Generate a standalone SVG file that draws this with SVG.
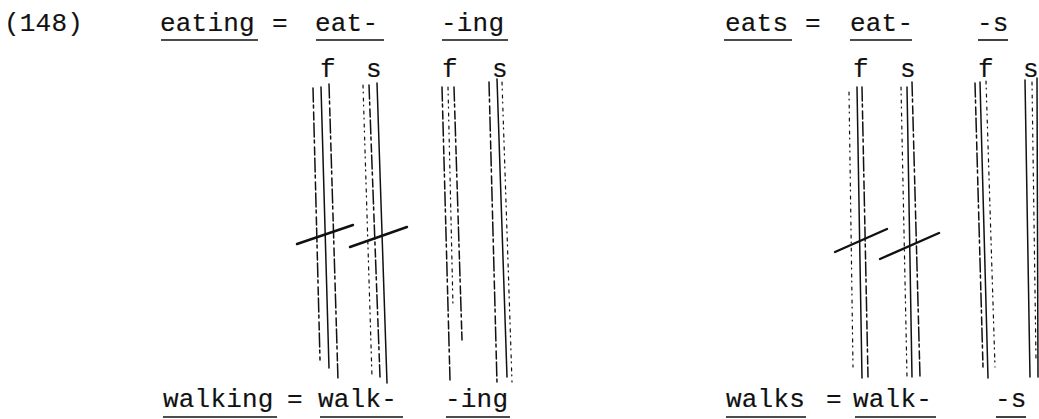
<svg xmlns="http://www.w3.org/2000/svg" width="1039" height="419" viewBox="0 0 1039 419">
  <style>
    text { font-family: "Liberation Mono", "DejaVu Sans Mono", monospace; font-size: 26px; letter-spacing: 0.2px; fill: #111; stroke: #111; stroke-width: 0.15; }
    .ul { stroke: #111; stroke-width: 1.6; }
    .ln { stroke: #111; stroke-width: 1.5; fill: none; stroke-linecap: round; }
    .br { stroke-dasharray: 14 3 3 4 8 3; }
    .dt { stroke-dasharray: 3 4 1 5; stroke-width: 1.2; }
    .bar { stroke: #111; stroke-width: 2.4; stroke-linecap: round; }
  </style>
  <rect width="1039" height="419" fill="#fff"/>

  <text id="ex-num" x="4" y="31">(148)</text>

  <!-- upper left: eating = eat- -ing -->
  <g id="eating"><text x="160" y="31">eating</text><line class="ul" x1="161" y1="40" x2="258" y2="40"/></g>
  <text x="272" y="31">=</text>
  <g id="eat-L"><text x="315" y="31">eat-</text><line class="ul" x1="316" y1="40" x2="384" y2="40"/>
    <text x="320" y="77">f</text><text x="366" y="77">s</text></g>
  <g id="ing-L"><text x="441" y="31">-ing</text><line class="ul" x1="442" y1="40" x2="508" y2="40"/>
    <text x="442" y="77">f</text><text x="492" y="77">s</text></g>

  <!-- upper right: eats = eat- -s -->
  <g id="eats"><text x="725" y="31">eats</text><line class="ul" x1="724" y1="40" x2="792" y2="40"/></g>
  <text x="805" y="31">=</text>
  <g id="eat-R"><text x="850" y="31">eat-</text><line class="ul" x1="850" y1="40" x2="912" y2="40"/>
    <text x="853" y="77">f</text><text x="900" y="77">s</text></g>
  <g id="s-R"><text x="977" y="31">-s</text><line class="ul" x1="978" y1="40" x2="1008" y2="40"/>
    <text x="978" y="77">f</text><text x="1023" y="77">s</text></g>

  <!-- lower left: walking = walk- -ing -->
  <g id="walking"><text x="163" y="407">walking</text><line class="ul" x1="163" y1="417" x2="277" y2="417"/></g>
  <text x="287" y="407">=</text>
  <g id="walk-L"><text x="318" y="407">walk-</text><line class="ul" x1="320" y1="417" x2="403" y2="417"/></g>
  <g id="ing-L2"><text x="445" y="407">-ing</text><line class="ul" x1="446" y1="417" x2="510" y2="417"/></g>

  <!-- lower right: walks = walk- -s -->
  <g id="walks"><text x="726" y="407">walks</text><line class="ul" x1="726" y1="417" x2="806" y2="417"/></g>
  <text x="826" y="407">=</text>
  <g id="walk-R"><text x="853" y="407">walk-</text><line class="ul" x1="855" y1="417" x2="936" y2="417"/></g>
  <g id="s-R2"><text x="995" y="407">-s</text><line class="ul" x1="996" y1="417" x2="1026" y2="417"/></g>

  <!-- feature lines (f / s) with crossing strokes -->
  <g id="connectors">
    <!-- eat- f -->
    <line class="ln br" x1="313" y1="88" x2="320" y2="360"/>
    <line class="ln" x1="321" y1="87" x2="329" y2="368"/>
    <line class="ln br" x1="329" y1="84" x2="338" y2="380"/>
    <line class="bar" x1="297" y1="244" x2="353" y2="225"/>
    <!-- eat- s -->
    <line class="ln dt" x1="363" y1="85" x2="372" y2="377"/>
    <line class="ln br" x1="369" y1="85" x2="380" y2="377"/>
    <line class="ln" x1="377" y1="83" x2="387" y2="383"/>
    <line class="bar" x1="350" y1="247" x2="407" y2="227"/>
    <!-- -ing f -->
    <line class="ln br" x1="442" y1="87" x2="450" y2="380"/>
    <line class="ln dt" x1="448" y1="87" x2="453" y2="307"/>
    <line class="ln br" x1="454" y1="87" x2="462" y2="340"/>
    <!-- -ing s -->
    <line class="ln br" x1="489" y1="82" x2="497" y2="383"/>
    <line class="ln" x1="497" y1="79" x2="507" y2="377"/>
    <line class="ln dt" x1="502" y1="82" x2="512" y2="382"/>

    <!-- eat- f (right) -->
    <line class="ln dt" x1="849" y1="92" x2="853" y2="367"/>
    <line class="ln" x1="857" y1="87" x2="862" y2="378"/>
    <line class="ln br" x1="862" y1="87" x2="868" y2="377"/>
    <line class="bar" x1="835" y1="252" x2="887" y2="229"/>
    <!-- eat- s (right) -->
    <line class="ln dt" x1="901" y1="87" x2="907" y2="377"/>
    <line class="ln" x1="907" y1="87" x2="912" y2="377"/>
    <line class="ln br" x1="912" y1="82" x2="920" y2="377"/>
    <line class="bar" x1="880" y1="259" x2="939" y2="233"/>
    <!-- -s f -->
    <line class="ln br" x1="975" y1="83" x2="983" y2="367"/>
    <line class="ln" x1="980" y1="82" x2="988" y2="378"/>
    <line class="ln dt" x1="986" y1="81" x2="995" y2="367"/>
    <!-- -s s -->
    <line class="ln" x1="1025" y1="80" x2="1030" y2="377"/>
    <line class="ln dt" x1="1032" y1="82" x2="1036" y2="360"/>
    <line class="ln" x1="1037" y1="78" x2="1038" y2="377"/>
  </g>
</svg>
